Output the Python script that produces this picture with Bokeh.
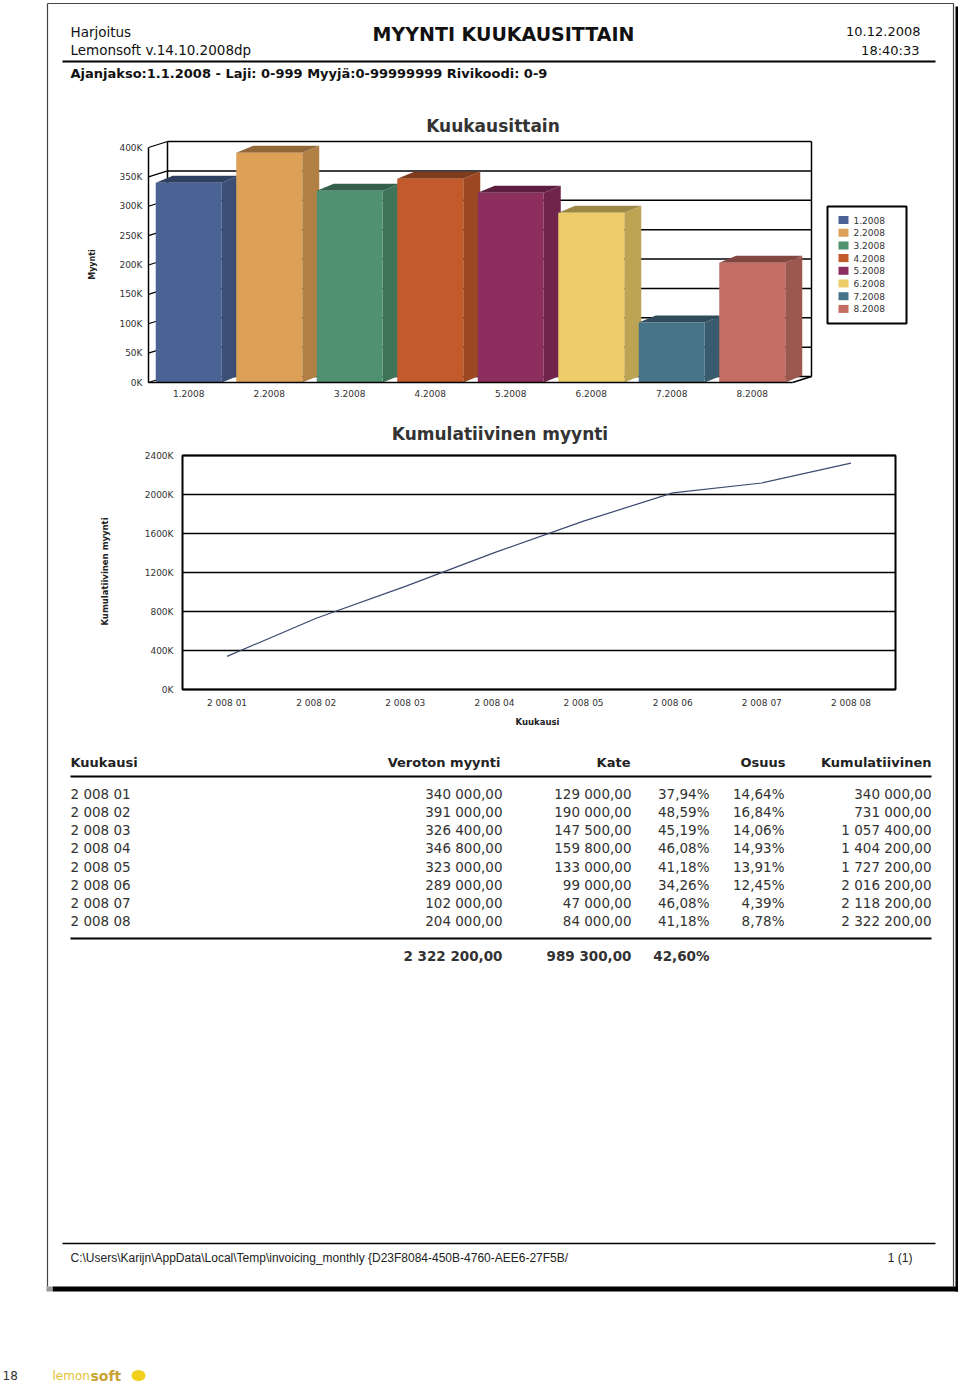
import numpy as np
from bokeh.plotting import figure
from bokeh.models import Range1d, FixedTicker, LinearAxis
from bokeh.core.properties import value
from bokeh.embed import file_html
from bokeh.resources import INLINE

# ---------------- data ----------------
bar_categories = ["1.2008", "2.2008", "3.2008", "4.2008", "5.2008", "6.2008", "7.2008", "8.2008"]
monthly_sales = [340000, 391000, 326400, 346800, 323000, 289000, 102000, 204000]
bar_colors = ["#4A6294", "#DCA057", "#509270", "#C35A2C", "#8C2E5E", "#EDCD69", "#467489", "#C46D62"]
bar_y_ticks = [0, 50000, 100000, 150000, 200000, 250000, 300000, 350000, 400000]
bar_y_tick_labels = ["0K", "50K", "100K", "150K", "200K", "250K", "300K", "350K", "400K"]

month_labels = ["2 008 01", "2 008 02", "2 008 03", "2 008 04", "2 008 05", "2 008 06", "2 008 07", "2 008 08"]
cumulative_sales = [340000, 731000, 1057400, 1404200, 1727200, 2016200, 2118200, 2322200]
cum_y_ticks = [0, 400000, 800000, 1200000, 1600000, 2000000, 2400000]
cum_y_tick_labels = ["0K", "400K", "800K", "1200K", "1600K", "2000K", "2400K"]

margin_values = [129000, 190000, 147500, 159800, 133000, 99000, 47000, 84000]
margin_pct = [37.94, 48.59, 45.19, 46.08, 41.18, 34.26, 46.08, 41.18]
share_pct = [14.64, 16.84, 14.06, 14.93, 13.91, 12.45, 4.39, 8.78]
total_sales = 2322200
total_margin = 989300
total_margin_pct = 42.60

table_headers = ["Kuukausi", "Veroton myynti", "Kate", "Osuus", "Kumulatiivinen"]

# ---------------- helpers ----------------
FONT = value("DejaVu Sans")
ARIAL = value("Liberation Sans")
W, H = 958, 1388
PAGE_L, PAGE_R, PAGE_T, PAGE_B = 47, 953, 3, 1286


def fi_num(v):
    return f"{v:,.2f}".replace(",", " ").replace(".", ",")


def fi_pct(v):
    return f"{v:.2f}%".replace(".", ",")


def shade(hx, f):
    r, g, b = (int(hx[i:i + 2], 16) for i in (1, 3, 5))
    return "#%02x%02x%02x" % (int(r * f), int(g * f), int(b * f))


p = figure(width=W, height=H, x_range=Range1d(0, W), y_range=Range1d(H, 0),
           x_axis_location=None, y_axis_location=None, toolbar_location=None,
           output_backend="svg", min_border=0, outline_line_color=None,
           background_fill_color="white", border_fill_color="white")
p.grid.visible = False


def txt(x, y, s, size, align="left", bold=False, color="#222", font=FONT, angle=0.0):
    xs = x if isinstance(x, list) else [x]
    ys = y if isinstance(y, list) else [y]
    ss = s if isinstance(s, list) else [s]
    k = max(len(xs), len(ys), len(ss))
    xs = xs * k if len(xs) == 1 else xs
    ys = ys * k if len(ys) == 1 else ys
    p.text(x=xs, y=ys, text=ss, text_font=font, text_font_size=f"{size}px",
           text_align=align, text_baseline="middle", text_color=color, angle=angle,
           text_font_style="bold" if bold else "normal")


# chart placement (layout): front axis origin and pixel scales
BAR_X0, BAR_Y0, BAR_STEP, BAR_PX = 148, 382, 80.5, 235 / 400000.0
LIN_X0, LIN_Y0, LIN_STEP, LIN_PX = 182, 689, 713 / 8.0, 234 / 2400000.0
p.extra_x_ranges = {
    "bx": Range1d(-BAR_X0 / BAR_STEP, (W - BAR_X0) / BAR_STEP),
    "mx": Range1d(-LIN_X0 / LIN_STEP, (W - LIN_X0) / LIN_STEP),
}
p.extra_y_ranges = {
    "by": Range1d((BAR_Y0 - H) / BAR_PX, BAR_Y0 / BAR_PX),
    "cy": Range1d((LIN_Y0 - H) / LIN_PX, LIN_Y0 / LIN_PX),
}

# ---------------- page frame ----------------
p.segment(x0=[PAGE_L, PAGE_R, PAGE_L], y0=[PAGE_T, PAGE_T, PAGE_T],
          x1=[PAGE_L, PAGE_R, PAGE_R], y1=[PAGE_B, PAGE_B, PAGE_T],
          line_color="#444444", line_width=1.2)
p.quad(left=[955, 52], right=[960, 960], top=[6, PAGE_B], bottom=[1291, 1291],
       fill_color="black", line_color=None)
p.quad(left=[46], right=[52], top=[PAGE_B], bottom=[1291], fill_color="#9a9a9a", line_color=None)

# ---------------- header ----------------
txt(70, 31, "Harjoitus", 13.5, color="#111")
txt(70, 49, "Lemonsoft v.14.10.2008dp", 13.5, color="#111")
txt(503, 33, "MYYNTI KUUKAUSITTAIN", 19, align="center", bold=True, color="#111")
txt(920, 31, "10.12.2008", 13, align="right", color="#111")
txt(919, 50, "18:40:33", 13, align="right", color="#111")
p.segment(x0=[62], y0=[61], x1=[935], y1=[61], line_color="black", line_width=2)
txt(70, 73, "Ajanjakso:1.1.2008 - Laji: 0-999 Myyjä:0-99999999 Rivikoodi: 0-9", 13,
    bold=True, color="#111")

# ---------------- bar chart (pseudo 3D) ----------------
n = len(bar_categories)
wdx, wdy = 19 / BAR_STEP, 6 / BAR_PX      # back-wall depth
bdx, bdy = 17 / BAR_STEP, 7 / BAR_PX      # bar depth
nt = len(bar_y_ticks)
top_tick = bar_y_ticks[-1]
BR = dict(x_range_name="bx", y_range_name="by")
p.segment(x0=[wdx] * nt, y0=[t + wdy for t in bar_y_ticks],
          x1=[n + wdx] * nt, y1=[t + wdy for t in bar_y_ticks],
          line_color="black", line_width=1.5, **BR)
p.segment(x0=[0] * nt, y0=bar_y_ticks, x1=[wdx] * nt, y1=[t + wdy for t in bar_y_ticks],
          line_color="black", line_width=1.2, **BR)
p.segment(x0=[wdx, n + wdx, n], y0=[wdy, wdy, 0],
          x1=[wdx, n + wdx, n + wdx], y1=[top_tick + wdy, top_tick + wdy, wdy],
          line_color="black", line_width=1.5, **BR)

idx = np.arange(n)
bw = 0.82
lefts = idx + 0.5 - bw / 2
rights = idx + 0.5 + bw / 2
side_xs = [[r, r, r + bdx, r + bdx] for r in rights]
side_ys = [[0, v, v + bdy, bdy] for v in monthly_sales]
top_xs = [[l, r, r + bdx, l + bdx] for l, r in zip(lefts, rights)]
top_ys = [[v, v, v + bdy, v + bdy] for v in monthly_sales]
p.patches(side_xs, side_ys, fill_color=[shade(c, 0.80) for c in bar_colors], line_color=None, **BR)
p.patches(top_xs, top_ys, fill_color=[shade(c, 0.66) for c in bar_colors], line_color=None, **BR)
p.vbar(x=idx + 0.5, width=bw, bottom=0, top=monthly_sales,
       fill_color=bar_colors, line_color=None, **BR)

bar_yax = LinearAxis(y_range_name="by", fixed_location=BAR_X0, bounds=(0, top_tick),
                     ticker=FixedTicker(ticks=bar_y_ticks))
bar_yax.major_label_overrides = dict(zip(bar_y_ticks, bar_y_tick_labels))
bar_xax = LinearAxis(x_range_name="bx", fixed_location=BAR_Y0, bounds=(0, n),
                     ticker=FixedTicker(ticks=[i + 0.5 for i in range(n)]))
bar_xax.major_label_overrides = {i + 0.5: c for i, c in enumerate(bar_categories)}

cum_yax = LinearAxis(y_range_name="cy", fixed_location=LIN_X0, bounds=(0, cum_y_ticks[-1]),
                     ticker=FixedTicker(ticks=cum_y_ticks))
cum_yax.major_label_overrides = dict(zip(cum_y_ticks, cum_y_tick_labels))
cum_xax = LinearAxis(x_range_name="mx", fixed_location=LIN_Y0, bounds=(0, len(month_labels)),
                     ticker=FixedTicker(ticks=[i + 0.5 for i in range(len(month_labels))]))
cum_xax.major_label_overrides = {i + 0.5: m for i, m in enumerate(month_labels)}

for ax, side, line_on, standoff in ((bar_yax, "left", True, 6), (bar_xax, "below", True, 7),
                                    (cum_yax, "left", False, 9), (cum_xax, "below", False, 8)):
    ax.axis_line_color = "black" if line_on else None
    ax.axis_line_width = 1.5
    ax.major_tick_line_color = None
    ax.minor_tick_line_color = None
    ax.major_tick_out = 0
    ax.major_tick_in = 0
    ax.minor_tick_out = 0
    ax.major_label_standoff = standoff
    ax.major_label_text_font = "DejaVu Sans"
    ax.major_label_text_font_size = "9px"
    ax.major_label_text_color = "#333333"
    p.add_layout(ax, side)

txt(492.5, 125, "Kuukausittain", 17, align="center", bold=True, color="#333333")
txt(92, 264, "Myynti", 8, align="center", bold=True, color="#222", angle=np.pi / 2)

# legend
leg_y = [219.5 + 12.7 * i for i in range(n)]
p.quad(left=[827], right=[906], top=[206], bottom=[323], fill_color="white",
       line_color="black", line_width=2)
p.rect(x=[843] * n, y=leg_y, width=10, height=8, fill_color=bar_colors, line_color=None)
txt(853, leg_y, bar_categories, 9, color="#333333")

# ---------------- cumulative line chart ----------------
m = len(month_labels)
CR = dict(x_range_name="mx", y_range_name="cy")
p.segment(x0=[0] * len(cum_y_ticks), y0=cum_y_ticks, x1=[m] * len(cum_y_ticks), y1=cum_y_ticks,
          line_color="black", line_width=1.5, **CR)
p.quad(left=[0], right=[m], bottom=[0], top=[cum_y_ticks[-1]], fill_color=None,
       line_color="black", line_width=2, **CR)
p.line(x=[i + 0.5 for i in range(m)], y=cumulative_sales, line_color="#3B4A6E", line_width=1.2, **CR)

txt(499.5, 433, "Kumulatiivinen myynti", 17, align="center", bold=True, color="#333333")
txt(104, 571, "Kumulatiivinen myynti", 8.5, align="center", bold=True, color="#222", angle=np.pi / 2)
txt(537, 721, "Kuukausi", 8.5, align="center", bold=True, color="#222")

# ---------------- table ----------------
hdr_x = [70, 500, 630, 785, 931]
hdr_al = ["left", "right", "right", "right", "right"]
for hx, ha, ht in zip(hdr_x, hdr_al, table_headers):
    txt(hx, 762, ht, 13, align=ha, bold=True, color="#222")
p.segment(x0=[70, 70], y0=[776, 938], x1=[931, 931], y1=[776, 938],
          line_color="black", line_width=2)

row_y = [793.5 + 18.15 * i for i in range(m)]
txt(70, row_y, month_labels, 13.5, color="#333")
txt(502, row_y, [fi_num(v) for v in monthly_sales], 13.5, align="right", color="#333")
txt(631, row_y, [fi_num(v) for v in margin_values], 13.5, align="right", color="#333")
txt(709, row_y, [fi_pct(v) for v in margin_pct], 13.5, align="right", color="#333")
txt(784, row_y, [fi_pct(v) for v in share_pct], 13.5, align="right", color="#333")
txt(931, row_y, [fi_num(v) for v in cumulative_sales], 13.5, align="right", color="#333")

txt(502, 955, fi_num(total_sales), 13.5, align="right", bold=True, color="#333")
txt(631, 955, fi_num(total_margin), 13.5, align="right", bold=True, color="#333")
txt(709, 955, fi_pct(total_margin_pct), 13.5, align="right", bold=True, color="#333")

# ---------------- footer ----------------
p.segment(x0=[62], y0=[1243], x1=[935], y1=[1243], line_color="black", line_width=1.5)
txt(70, 1257, "C:\\Users\\Karijn\\AppData\\Local\\Temp\\invoicing_monthly {D23F8084-450B-4760-AEE6-27F5B/",
    12, color="#222", font=ARIAL)
txt(912, 1257, "1 (1)", 12, align="right", color="#222", font=ARIAL)

txt(2, 1375, "18", 12, color="#333")
txt(52, 1375, "lemon", 12, color="#E3BF35")
txt(90, 1375, "soft", 14, bold=True, color="#C9A232")
p.ellipse(x=[138], y=[1375], width=14, height=11, fill_color="#F3D01C", line_color=None)

open("out.html", "w").write(file_html(p, INLINE))
